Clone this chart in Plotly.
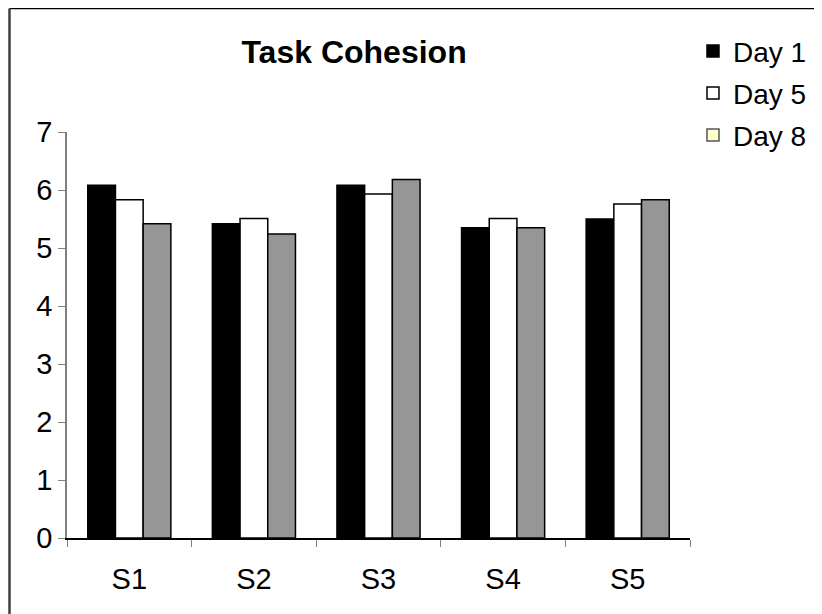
import plotly.graph_objects as go

categories = ["S1", "S2", "S3", "S4", "S5"]
day1 = [6.08, 5.42, 6.08, 5.35, 5.50]
day5 = [5.83, 5.51, 5.93, 5.51, 5.76]
day8 = [5.42, 5.24, 6.18, 5.35, 5.83]
y_ticks = [0, 1, 2, 3, 4, 5, 6, 7]

FONT = "Liberation Sans, Arial, sans-serif"

fig = go.Figure()
fig.add_trace(go.Bar(name="Day 1", x=categories, y=day1, legendgroup="d1", offsetgroup="g1",
                     marker=dict(color="#000000", line=dict(color="#000000", width=1.5))))
fig.add_trace(go.Bar(name="Day 5", x=categories, y=day5, legendgroup="d5", offsetgroup="g2",
                     marker=dict(color="#FFFFFF", line=dict(color="#000000", width=1.5))))
fig.add_trace(go.Bar(name="Day 8", x=categories, y=day8, showlegend=False, legendgroup="d8",
                     offsetgroup="g3",
                     marker=dict(color="#969696", line=dict(color="#000000", width=1.5))))
# legend swatch for Day 8 (reference shows a pale yellow key); shares Day 8's slot
fig.add_trace(go.Bar(name="Day 8", x=[categories[0]], y=[None], showlegend=True, legendgroup="d8",
                     offsetgroup="g3", hoverinfo="skip",
                     marker=dict(color="#FFFFCC", line=dict(color="#555555", width=1.5))))

fig.update_layout(
    width=822, height=614,
    margin=dict(l=59, r=140, t=124, b=84.4, autoexpand=False),
    paper_bgcolor="white", plot_bgcolor="white",
    barmode="group", bargap=0.333, bargroupgap=0,
    font=dict(family=FONT, size=28, color="black"),
    title=dict(text="<b>Task Cohesion</b>", x=0.421, xanchor="center",
               y=0.928, yanchor="middle", font=dict(family=FONT, size=32, color="black")),
    legend=dict(x=1.0048, xanchor="left", y=1.2601, yanchor="top",
                font=dict(family=FONT, size=28, color="black"),
                bgcolor="rgba(0,0,0,0)", traceorder="grouped", tracegroupgap=2.5),
    xaxis=dict(showline=True, linecolor="black", linewidth=1.5,
               ticks="outside", tickson="boundaries", ticklen=7, tickcolor="#808080",
               showgrid=False, zeroline=False, ticklabelstandoff=14,
               tickfont=dict(family=FONT, size=29)),
    yaxis=dict(range=[0, 7], tickvals=y_ticks, showline=True, linecolor="#808080", linewidth=1.5,
               ticks="outside", ticklen=7, tickcolor="#808080",
               showgrid=False, zeroline=False,
               tickfont=dict(family=FONT, size=29)),
    shapes=[
        dict(type="line", xref="paper", yref="paper", x0=-0.0923, x1=1.3, y0=1.304, y1=1.304,
             line=dict(color="black", width=1.5)),
        dict(type="line", xref="paper", yref="paper", x0=-0.0923, x1=-0.0923, y0=1.304, y1=-0.25,
             line=dict(color="#404040", width=2.5)),
    ],
)

fig.write_html("out.html")
